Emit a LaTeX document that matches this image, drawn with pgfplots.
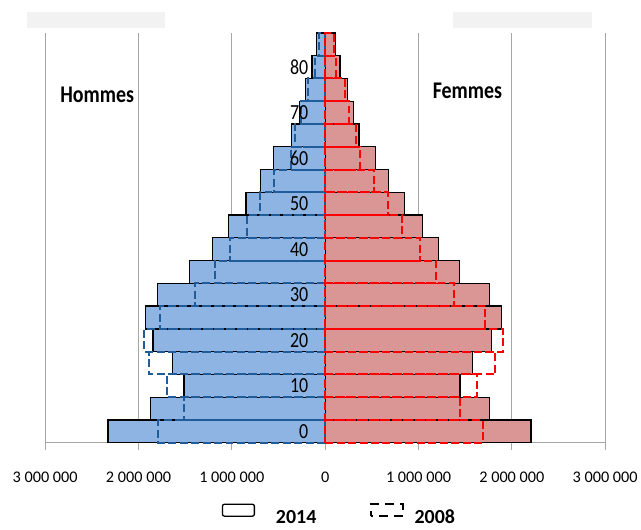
\documentclass[border=0pt]{standalone}
\usepackage{fontspec}
\setmainfont{Carlito}
\usepackage{graphicx}
\usepackage{pgfplots}
\usepackage{pgfplotstable}
\pgfplotsset{compat=1.18}
\definecolor{menfill}{HTML}{8DB4E2}
\definecolor{womenfill}{HTML}{DA9694}
\definecolor{mendash}{HTML}{1F5C99}
\definecolor{womendash}{HTML}{FF0000}
\definecolor{gridgray}{HTML}{A6A6A6}
\newcommand{\vs}[1]{\scalebox{1}[1.2]{#1}}

% idx: 0 = 0-4 ans, 1 = 5-9 ans, ..., 17 = 85-89 ans
\pgfplotstableread{
idx men14 women14 men08 women08
0  -2327000 2204000 -1786000 1689000
1  -1868000 1761000 -1512000 1446000
2  -1512000 1446000 -1697000 1629000
3  -1637000 1575000 -1886000 1821000
4  -1843000 1782000 -1936000 1904000
5  -1922000 1889000 -1765000 1714000
6  -1797000 1761000 -1395000 1382000
7  -1456000 1436000 -1185000 1189000
8  -1210000 1214000 -1021000 1021000
9  -1039000 1046000 -836000  821000
10 -847000  850000  -694000  668000
11 -694000  682000  -553000  520000
12 -555000  541000  -367000  370000
13 -359000  363000  -320000  335000
14 -278000  302000  -260000  256000
15 -214000  238000  -189000  214000
16 -142000  160000  -107000  114000
17 -93000   114000  -64000   96000
}\pyr

\begin{document}
\begin{tikzpicture}
\path (0pt,0pt) rectangle (641pt,531pt);
\fill[gray!10] (26.7pt,503.3pt) rectangle (166pt,519.3pt);
\fill[gray!10] (455pt,503.3pt) rectangle (594pt,519.3pt);
\begin{axis}[
  set layers,
  at={(45.3pt,86.7pt)}, anchor=south west,
  scale only axis, width=562pt, height=411.3pt,
  xmin=-3000000, xmax=3000000,
  ymin=-0.5, ymax=17.5,
  xbar, bar shift=0pt, bar width=1,
  axis x line=bottom, axis y line=center,
  hide obscured x ticks=false, hide obscured y ticks=false,
  x axis line style={-, draw=gridgray, line width=1.3pt},
  y axis line style={-, draw=gridgray, line width=1.3pt, /pgfplots/on layer=axis foreground},
  xtick={-3000000,-2000000,-1000000,0,1000000,2000000,3000000},
  xticklabels={3 000 000,2 000 000,1 000 000,0,1 000 000,2 000 000,3 000 000},
  scaled x ticks=false,
  xtick style={draw=gridgray, line width=1.2pt},
  tick align=outside, major tick length=7.5pt,
  xmajorgrids, grid style={draw=gridgray, line width=1.1pt},
  xticklabel style={font=\fontsize{16.3}{19}\selectfont, yshift=-18pt},
  ytick={0,2,4,6,8,10,12,14,16},
  yticklabels={\vs{0},\vs{10},\vs{20},\vs{30},\vs{40},\vs{50},\vs{60},\vs{70},\vs{80}},
  ytick style={draw=none},
  yticklabel style={font=\fontsize{18}{20}\selectfont, anchor=east, xshift=-6pt, /pgfplots/on layer=axis foreground},
  clip=false,
  legend columns=2,
  legend style={draw=none, fill=none, at={(0.3098,-0.1645)}, anchor=west,
    font=\fontsize{20}{24}\selectfont\bfseries, column sep=0pt},
]
\addplot[forget plot, fill=menfill, draw=black, line width=1.3pt] table[x=men14, y=idx] {\pyr};
\addplot[forget plot, fill=womenfill, draw=black, line width=1.3pt] table[x=women14, y=idx] {\pyr};
\addplot[forget plot, fill=none, draw=mendash, line width=2pt, dash pattern=on 8pt off 3.5pt] table[x=men08, y=idx] {\pyr};
\addplot[forget plot, fill=none, draw=womendash, line width=2pt, dash pattern=on 8pt off 3.5pt] table[x=women08, y=idx] {\pyr};

\addlegendimage{legend image code/.code={\draw[black, line width=1.3pt, rounded corners=2pt] (0pt,-6pt) rectangle (32pt,6pt);}}
\addlegendentry{\hspace{19pt}\raisebox{-14.5pt}{2014}\kern52pt}
\addlegendimage{legend image code/.code={\draw[black, line width=1.6pt, dash pattern=on 9pt off 6pt, dash phase=4pt] (0pt,-6pt) rectangle (32pt,6pt);}}
\addlegendentry{\hspace{9pt}\raisebox{-14.5pt}{2008}}

\node[font=\fontsize{20}{24}\selectfont\bfseries] at (rel axis cs:0.0929,0.849) {\vs{Hommes}};
\node[font=\fontsize{20}{24}\selectfont\bfseries] at (rel axis cs:0.754,0.859) {\vs{Femmes}};
\end{axis}
\end{tikzpicture}
\end{document}
